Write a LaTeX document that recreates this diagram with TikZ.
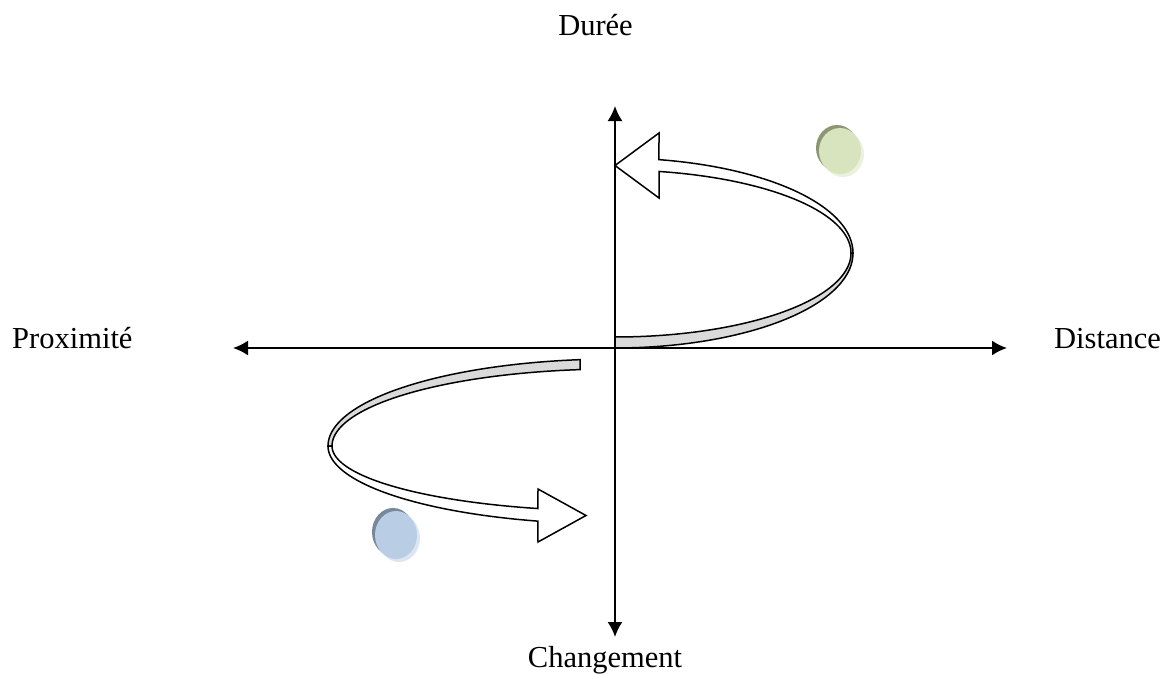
\documentclass[tikz,border=0pt]{standalone}
\usepackage{fontspec}
\setmainfont{Liberation Serif}
\usetikzlibrary{arrows.meta}
\definecolor{gmain}{RGB}{215,228,189}
\definecolor{gdark}{RGB}{140,150,115}
\definecolor{glight}{RGB}{235,241,222}
\definecolor{bmain}{RGB}{185,205,229}
\definecolor{bdark}{RGB}{120,135,155}
\definecolor{blight}{RGB}{220,230,242}
\definecolor{band}{RGB}{218,218,218}
\tikzset{
  axisline/.style={line width=1.8pt,{Latex[length=15pt,width=15pt]}-{Latex[length=15pt,width=15pt]}},
  label/.style={font=\fontsize{30.5}{36}\selectfont,inner sep=0pt},
  ribbon/.style={draw=black,line width=1.5pt,line join=miter},
}
\begin{document}
\begin{tikzpicture}[x=1pt,y=-1pt]
\useasboundingbox (0,0) rectangle (1168,675);
% axes
\coordinate (L) at (233,348);
\coordinate (R) at (1007,348);
\coordinate (T) at (615,106);
\coordinate (B) at (615,637);
\draw[axisline] (L) -- (R);
\draw[axisline] (T) -- (B);
% labels
\node[label,anchor=base] (duree) at (595.5,35) {Durée};
\node[label,anchor=base] (chang) at (605,667) {Changement};
\node[label,anchor=base west] (prox) at (12,348) {Proximité};
\node[label,anchor=base west] (dist) at (1054,348) {Distance};
% upper curved arrow (centre 615,253)
\draw[ribbon,fill=band] plot[domain=0:90,samples=60] ({615+238*cos(\x)},{253+95*sin(\x)})
  -- plot[domain=90:0,samples=60] ({615+236*cos(\x)},{253+84*sin(\x)}) -- cycle;
\draw[ribbon,fill=white] plot[domain=-79.35:0,samples=60] ({615+238*cos(\x)},{253+95*sin(\x)})
  -- plot[domain=0:-79.25,samples=60] ({615+236*cos(\x)},{253+83*sin(\x)})
  -- (659,198) -- (615,165.5) -- (659,133) -- cycle;
% lower curved arrow (centre 615,446)
\draw[ribbon,fill=band] plot[domain=-97.0:-180,samples=60] ({615+287*cos(\x)},{446+87*sin(\x)})
  -- plot[domain=-180:-97.1,samples=60] ({615+283*cos(\x)},{446+77*sin(\x)}) -- cycle;
\draw[ribbon,fill=white] plot[domain=105.8:180,samples=60] ({615+283*cos(\x)},{446+65*sin(\x)})
  -- plot[domain=180:105.6,samples=60] ({615+287*cos(\x)},{446+78*sin(\x)})
  -- (538,542) -- (586,515.5) -- (538,489) -- cycle;
% green disc
\fill[glight] (843,154) ellipse[x radius=21,y radius=23];
\fill[gdark] (837,148) ellipse[x radius=21,y radius=23];
\fill[gmain] (840,151) ellipse[x radius=21,y radius=23];
% blue disc
\fill[blight] (399,538) ellipse[x radius=21,y radius=24];
\fill[bdark] (393,532) ellipse[x radius=21,y radius=24];
\fill[bmain] (396,535) ellipse[x radius=21,y radius=24];
\end{tikzpicture}
\end{document}
